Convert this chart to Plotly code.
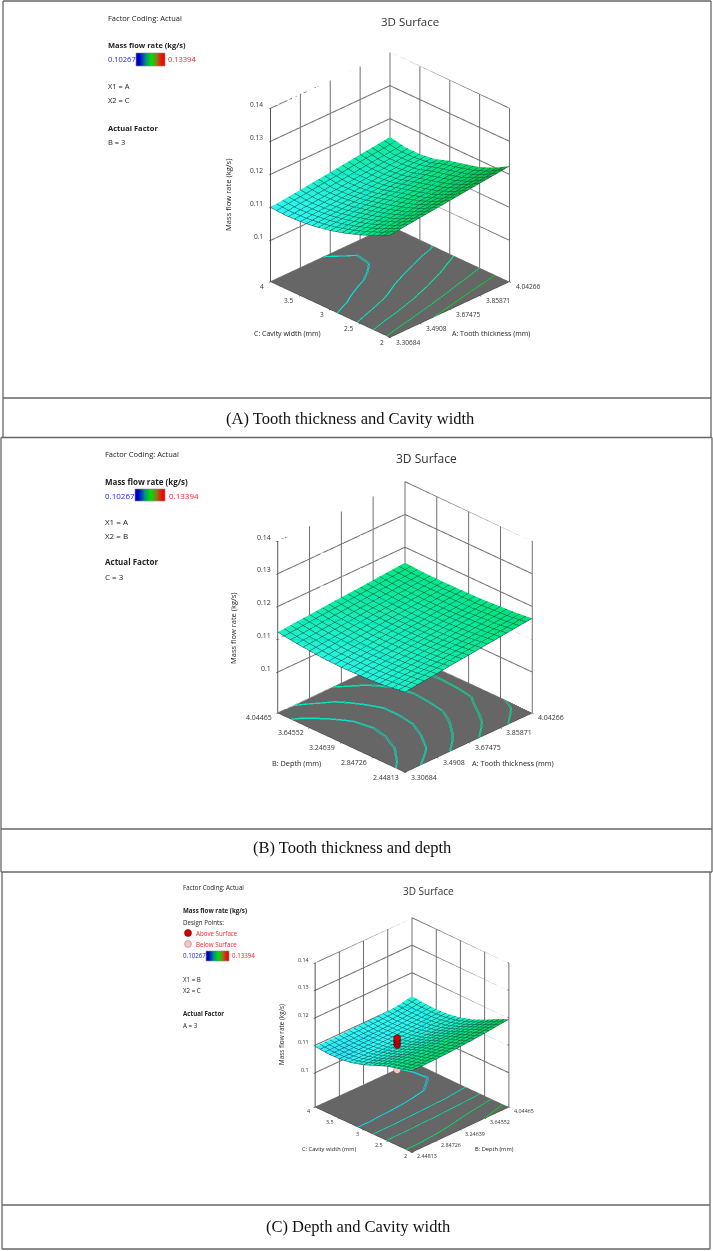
import plotly.graph_objects as go

W, H = 713, 1251
FONT = "Open Sans"
SERIF = "Liberation Serif"

# ---------- data ----------
a_grid = [3.30684, 3.39882, 3.49080, 3.58278, 3.67475, 3.76673, 3.85871, 3.95069, 4.04266]
b_grid = [2.44813, 2.64770, 2.84726, 3.04683, 3.24639, 3.44596, 3.64552, 3.84509, 4.04465]
c_grid = [2.0, 2.25, 2.5, 2.75, 3.0, 3.25, 3.5, 3.75, 4.0]

a_ticks = [3.30684, 3.4908, 3.67475, 3.85871, 4.04266]
b_ticks = [2.44813, 2.84726, 3.24639, 3.64552, 4.04465]
c_ticks = [2, 2.5, 3, 3.5, 4]
z_ticks = [0.1, 0.11, 0.12, 0.13, 0.14]
z_floor = 0.0875
z_top = 0.14

flow_ac = [
    [.1185, .1190, .1195, .1200, .1205, .1210, .1215, .1220, .1225],
    [.1162, .1167, .1171, .1176, .1181, .1185, .1190, .1194, .1199],
    [.1143, .1148, .1152, .1157, .1162, .1166, .1171, .1175, .1180],
    [.1127, .1132, .1137, .1142, .1148, .1153, .1158, .1163, .1168],
    [.1114, .1119, .1125, .1130, .1136, .1141, .1146, .1152, .1157],
    [.1105, .1110, .1114, .1119, .1123, .1128, .1132, .1137, .1141],
    [.1099, .1104, .1108, .1113, .1117, .1122, .1126, .1131, .1135],
    [.1097, .1102, .1106, .1111, .1116, .1121, .1126, .1130, .1135],
    [.1100, .1106, .1111, .1117, .1122, .1128, .1134, .1139, .1145],
]
flow_ab = [
    [.1120, .1126, .1131, .1137, .1142, .1148, .1153, .1159, .1164],
    [.1113, .1119, .1124, .1130, .1136, .1141, .1147, .1152, .1158],
    [.1108, .1114, .1120, .1126, .1132, .1137, .1143, .1149, .1155],
    [.1106, .1112, .1117, .1123, .1129, .1134, .1140, .1145, .1151],
    [.1105, .1111, .1116, .1122, .1128, .1133, .1139, .1144, .1150],
    [.1106, .1111, .1117, .1122, .1128, .1133, .1138, .1144, .1149],
    [.1110, .1115, .1120, .1125, .1130, .1134, .1139, .1144, .1149],
    [.1115, .1119, .1124, .1128, .1133, .1137, .1141, .1146, .1150],
    [.1122, .1126, .1130, .1134, .1138, .1141, .1145, .1149, .1153],
]
flow_bc = [
    [.1172, .1172, .1173, .1175, .1178, .1181, .1185, .1190, .1195],
    [.1158, .1158, .1159, .1160, .1162, .1165, .1168, .1171, .1175],
    [.1147, .1147, .1147, .1148, .1148, .1149, .1150, .1151, .1152],
    [.1129, .1129, .1129, .1130, .1130, .1131, .1131, .1132, .1133],
    [.1111, .1111, .1112, .1112, .1113, .1114, .1115, .1117, .1119],
    [.1098, .1098, .1099, .1100, .1101, .1103, .1105, .1108, .1111],
    [.1092, .1092, .1093, .1094, .1096, .1098, .1101, .1104, .1108],
    [.1091, .1091, .1092, .1093, .1094, .1096, .1099, .1104, .1110],
    [.1096, .1096, .1096, .1097, .1098, .1099, .1101, .1106, .1115],
]
levels_ac = [(0.112, "#00e8d8"), (0.114, "#00e8c0"), (0.116, "#00e8a0"), (0.118, "#00e060"), (0.120, "#00e020")]
levels_ab = [(0.1116, "#00e8c8"), (0.1126, "#00e8c0"), (0.1136, "#00e8b0"), (0.1146, "#00e8a0"), (0.1156, "#00e090")]
levels_bc = [(0.1105, "#00e0f0"), (0.1125, "#00e0c8"), (0.1145, "#00e0a0"), (0.1165, "#00e060"), (0.1185, "#00e020")]

above_b = [3.0, 3.0, 3.0, 3.0, 3.0]
above_c = [3.0, 3.0, 3.0, 3.0, 3.0]
above_z = [0.1128, 0.1134, 0.1140, 0.1146, 0.1152]
below_b = [3.0]
below_c = [3.0]
below_z = [0.1036]

bar_values = [0.10267, 0.1105, 0.1183, 0.1261, 0.13394]
flow_min, flow_max = 0.10267, 0.13394

surface_scale = [[0, "#0000ff"], [0.22, "#30f8f8"], [0.4, "#00e880"], [0.62, "#14b030"], [0.8, "#a09020"], [1, "#ff0000"]]
bar_scale = [[0, "#0000c8"], [0.25, "#008a8a"], [0.5, "#00e000"], [0.75, "#8a7a20"], [1, "#ff0000"]]

fig = go.Figure()


def px(x):
    return x / W


def py(y):
    return 1 - y / H


annotations = []
shapes = []


def label(x, y, text, size=7.5, color="#222222", bold=False, anchor="left", family=FONT):
    annotations.append(dict(
        x=px(x), y=py(y), xref="paper", yref="paper", text=f"<b>{text}</b>" if bold else text,
        showarrow=False, xanchor=anchor, yanchor="middle",
        font=dict(family=family, size=size, color=color), borderpad=0,
    ))


def walls(x0, x1, y0, y1, xt, yt):
    xs, ys, zs = [], [], []
    for z in [z_floor] + z_ticks:
        xs += [x0, x1, x1, None]
        ys += [y1, y1, y0, None]
        zs += [z, z, z, None]
    for x in xt:
        xs += [x, x, None]
        ys += [y1, y1, None]
        zs += [z_floor, z_top, None]
    for y in yt:
        xs += [x1, x1, None]
        ys += [y, y, None]
        zs += [z_floor, z_top, None]
    return go.Scatter3d(x=xs, y=ys, z=zs, mode="lines", hoverinfo="skip", showlegend=False,
                        line=dict(color="#707070", width=2))


def panel(name, domain, xg, yg, zz, xt, yt, lv, fs, zaspect, gap):
    x0, x1, y0, y1 = xg[0], xg[-1], yg[0], yg[-1]
    fig.add_trace(walls(x0, x1, y0, y1, xt, yt).update(scene=name))
    fig.add_trace(go.Surface(
        x=xg, y=yg, z=zz, scene=name, colorscale=surface_scale, cmin=flow_min, cmax=flow_max,
        showscale=False, hoverinfo="skip",
        lighting=dict(ambient=1.0, diffuse=0.15, specular=0.0, roughness=0.9),
        lightposition=dict(x=-1000, y=-1000, z=3000),
        contours=dict(
            x=dict(show=True, start=x0, end=x1, size=(x1 - x0) / 20, color="#14484a", width=1),
            y=dict(show=True, start=y0, end=y1, size=(y1 - y0) / 20, color="#14484a", width=1),
        ),
    ))
    for level, col in lv:
        fig.add_trace(go.Surface(
            x=xg, y=yg, z=zz, scene=name, opacity=0.01, showscale=False, hoverinfo="skip",
            colorscale=[[0, col], [1, col]],
            contours=dict(z=dict(show=True, start=level - 0.00003, end=level + 0.00004, size=0.00003, color=col,
                                 width=2, project=dict(z=True))),
        ))
    font = dict(family=FONT, size=fs, color="#333333")
    sa = []
    for v in xt:
        sa.append(dict(x=v, y=y0, z=z_floor, text=str(v), showarrow=False, xanchor="left", yanchor="middle",
                       xshift=gap, yshift=-gap - 1, font=font))
    for v in yt:
        sa.append(dict(x=x0, y=v, z=z_floor, text=str(v), showarrow=False, xanchor="right", yanchor="middle",
                       xshift=-gap, yshift=-gap - 1, font=font))
    for v in z_ticks:
        sa.append(dict(x=x0, y=y1, z=v, text=str(v), showarrow=False, xanchor="right", yanchor="middle",
                       xshift=-gap - 1, yshift=gap, font=font))
    ax = dict(showgrid=False, zeroline=False, showspikes=False, showticklabels=False,
              showbackground=False, showline=True, linecolor="#333333", linewidth=1,
              ticks="outside", ticklen=2, tickcolor="#111111", title=dict(text=""))
    fig.update_layout({name: dict(
        domain=dict(x=[px(domain[0]), px(domain[2])], y=[py(domain[3]), py(domain[1])]),
        bgcolor="rgba(0,0,0,0)",
        aspectmode="manual", aspectratio=dict(x=1, y=1, z=zaspect),
        camera=dict(eye=dict(x=-2.0, y=-2.0, z=1.49), center=dict(x=0, y=0, z=0), up=dict(x=0, y=0, z=1),
                    projection=dict(type="orthographic")),
        xaxis=dict(ax, range=[x0, x1], tickvals=xt),
        yaxis=dict(ax, range=[y0, y1], tickvals=yt),
        zaxis=dict(ax, range=[z_floor, z_top], tickvals=z_ticks, showbackground=True, backgroundcolor="#666666"),
        annotations=sa,
    )})


def colorbar(i, x0, x1, y0, y1):
    suffix = "" if i == 1 else str(i)
    fig.add_trace(go.Heatmap(z=[bar_values], x=[0, 1, 2, 3, 4], y=[0], colorscale=bar_scale, zmin=flow_min,
                             zmax=flow_max, zsmooth="best", showscale=False, hoverinfo="skip",
                             xaxis="x" + suffix, yaxis="y" + suffix))
    blank = dict(visible=False, fixedrange=True)
    fig.update_layout({"xaxis" + suffix: dict(blank, domain=[px(x0), px(x1)], anchor="y" + suffix),
                       "yaxis" + suffix: dict(blank, domain=[py(y1), py(y0)], anchor="x" + suffix)})
    shapes.append(dict(type="rect", xref="paper", yref="paper", x0=px(x0), x1=px(x1), y0=py(y0), y1=py(y1),
                       line=dict(color="#888888", width=0.6)))


panel("scene", (221, 26, 559, 364), a_grid, c_grid, flow_ac, a_ticks, c_ticks, levels_ac, 6.6, 1.16, 4)
panel("scene2", (225, 447, 585, 807), a_grid, b_grid, flow_ab, a_ticks, b_ticks, levels_ab, 7, 1.08, 4)
panel("scene3", (275, 898, 549, 1172), b_grid, c_grid, flow_bc, b_ticks, c_ticks, levels_bc, 5.4, 1.19, 3)

fig.add_trace(go.Scatter3d(x=above_b, y=above_c, z=above_z, scene="scene3", mode="markers", hoverinfo="skip",
                           marker=dict(size=4, color="#cc0000", line=dict(color="#550000", width=1))))
fig.add_trace(go.Scatter3d(x=below_b, y=below_c, z=below_z, scene="scene3", mode="markers", hoverinfo="skip",
                           marker=dict(size=4, color="#f5c4c4", line=dict(color="#996666", width=1))))

colorbar(1, 136, 165, 53, 66)
colorbar(2, 135, 165, 489, 501)
colorbar(3, 206, 229, 951, 961)

# panel A text
label(107, 18, "Factor Coding: Actual")
label(107, 45, "Mass flow rate (kg/s)", bold=True)
label(107, 59, "0.10267", color="#2020ff")
label(167, 59, "0.13394", color="#ff2020")
label(107, 86.5, "X1 = A")
label(107, 100.5, "X2 = C")
label(107, 128, "Actual Factor", bold=True)
label(107, 142, "B = 3")
label(410, 22, "3D Surface", size=11.5, anchor="center", color="#333333")
label(491, 333, "A: Tooth thickness (mm)", size=7, anchor="center")
label(287, 333, "C: Cavity width (mm)", size=7, anchor="center")
label(228, 195, "<span>Mass flow rate (kg/s)</span>", size=7.6)
annotations[-1].update(textangle=-90, xanchor="center")

# panel B text
label(104, 454, "Factor Coding: Actual")
label(104, 481, "Mass flow rate (kg/s)", size=8, bold=True)
label(104, 495, "0.10267", size=8, color="#2020ff")
label(168, 495, "0.13394", size=8, color="#ff2020")
label(104, 521, "X1 = A", size=8)
label(104, 535, "X2 = B", size=8)
label(104, 562, "Actual Factor", size=8, bold=True)
label(104, 576, "C = 3", size=8)
label(426, 458, "3D Surface", size=12, anchor="center", color="#333333")
label(513, 763, "A: Tooth thickness (mm)", size=7.3, anchor="center")
label(296, 763, "B: Depth (mm)", size=7.3, anchor="center")
label(233, 628, "Mass flow rate (kg/s)", size=7.5)
annotations[-1].update(textangle=-90, xanchor="center")

# panel C text
label(182, 887, "Factor Coding: Actual", size=6.2)
label(182, 910, "Mass flow rate (kg/s)", size=6.2, bold=True)
label(182, 922, "Design Points:", size=6.2)
label(195, 933, "Above Surface", size=6.2, color="#ff2020")
label(195, 944, "Below Surface", size=6.2, color="#ff2020")
label(182, 956, "0.10267", size=6.2, color="#2020ff")
label(231, 956, "0.13394", size=6.2, color="#ff2020")
label(182, 979, "X1 = B", size=6.2)
label(182, 990, "X2 = C", size=6.2)
label(182, 1013, "Actual Factor", size=6.2, bold=True)
label(182, 1025, "A = 3", size=6.2)
label(428, 891, "3D Surface", size=10, anchor="center", color="#333333")
label(494, 1149, "B: Depth (mm)", size=5.7, anchor="center")
label(329, 1149, "C: Cavity width (mm)", size=5.7, anchor="center")
label(281, 1035, "Mass flow rate (kg/s)", size=6.4)
annotations[-1].update(textangle=-90, xanchor="center")

for cy, col, edge in [(933, "#cc0000", "#880000"), (944, "#f5c4c4", "#aa8888")]:
    shapes.append(dict(type="circle", xref="paper", yref="paper", x0=px(184.5), x1=px(191.5),
                       y0=py(cy + 3.5), y1=py(cy - 3.5), fillcolor=col, line=dict(color=edge, width=0.6)))

# captions
label(350, 418, "(A) Tooth thickness and Cavity width", size=16.5, anchor="center", family=SERIF, color="#111111")
label(352, 847, "(B) Tooth thickness and depth", size=16.5, anchor="center", family=SERIF, color="#111111")
label(358, 1226, "(C) Depth and Cavity width", size=16.5, anchor="center", family=SERIF, color="#111111")

# table rules
rules = [(3, 711, 1), (3, 711, 398), (1, 712, 437.5), (1, 712, 829), (1, 712, 872), (2, 710, 1205), (2, 710, 1249)]
for x0, x1, y in rules:
    shapes.append(dict(type="line", xref="paper", yref="paper", x0=px(x0), x1=px(x1), y0=py(y), y1=py(y),
                       line=dict(color="#666666", width=1.3)))
verticals = [(3, 1, 437.5), (711, 1, 437.5), (1, 437.5, 872), (712, 437.5, 872), (2, 872, 1249), (710, 872, 1249)]
for x, y0, y1 in verticals:
    shapes.append(dict(type="line", xref="paper", yref="paper", x0=px(x), x1=px(x), y0=py(y0), y1=py(y1),
                       line=dict(color="#666666", width=1.3)))

fig.update_layout(width=W, height=H, autosize=False, margin=dict(l=0, r=0, t=0, b=0),
                  paper_bgcolor="white", plot_bgcolor="white", showlegend=False,
                  annotations=annotations, shapes=shapes)
fig.write_html("out.html", post_script="document.body.style.margin='0';", config=dict(displayModeBar=False))
